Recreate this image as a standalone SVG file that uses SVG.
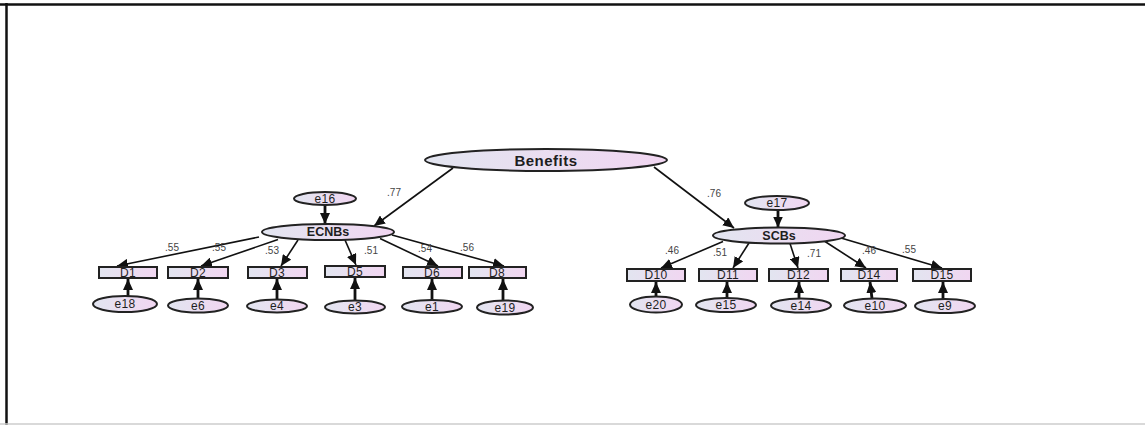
<svg xmlns="http://www.w3.org/2000/svg" width="1145" height="425" viewBox="0 0 1145 425">
<style>
  .lat { fill: url(#g); stroke: #222; stroke-width: 2; }
  .obs { fill: url(#g); stroke: #222; stroke-width: 2; }
  .t { font-family: "Liberation Sans", Arial, sans-serif; fill: #1e1e1e; text-anchor: middle; dominant-baseline: central; }
  .big { font-size: 15px; font-weight: bold; letter-spacing: 0.5px; }
  .mid { font-size: 12.5px; font-weight: bold; }
  .sm { font-size: 12px; letter-spacing: 0.3px; }
  .lab { font-family: "Liberation Sans", Arial, sans-serif; font-size: 10px; fill: #444; text-anchor: middle; dominant-baseline: central; }
  .c { stroke: #111; stroke-width: 1.6; fill: none; marker-end: url(#ah); }
  .v { stroke: #111; stroke-width: 2.8; fill: none; marker-end: url(#ah); }
</style>
<defs>
  <linearGradient id="g" x1="0" y1="0" x2="1" y2="0">
    <stop offset="0" stop-color="#e2e5f0"/>
    <stop offset="1" stop-color="#f1d6f1"/>
  </linearGradient>
  <marker id="ah" markerUnits="userSpaceOnUse" markerWidth="11" markerHeight="10" refX="11" refY="5" orient="auto">
    <path d="M0,0 L11,5 L0,10 z" fill="#111"/>
  </marker>
</defs>
<rect x="0" y="0" width="1145" height="425" fill="#fff"/>
<g id="frame">
  <line x1="0" y1="4.5" x2="1145" y2="4.5" stroke="#111" stroke-width="2.5"/>
  <line x1="6.5" y1="3" x2="6.5" y2="425" stroke="#111" stroke-width="2.5"/>
  <line x1="0" y1="424" x2="1145" y2="424" stroke="#ccc" stroke-width="1.5"/>
</g>
<g id="connectors">
  <line class="c" x1="453" y1="168" x2="374" y2="226"/>
  <line class="c" x1="654" y1="167" x2="734" y2="228"/>
  <line class="v" x1="325" y1="205" x2="325" y2="224"/>
  <line class="v" x1="778" y1="210" x2="778" y2="227.5"/>
  <line class="c" x1="259" y1="237" x2="117" y2="266"/>
  <line class="c" x1="278" y1="239.5" x2="201" y2="266"/>
  <line class="c" x1="298" y1="240" x2="281" y2="266"/>
  <line class="c" x1="345" y1="240" x2="356" y2="265"/>
  <line class="c" x1="380" y1="238.5" x2="438" y2="266"/>
  <line class="c" x1="392" y1="235" x2="504" y2="266"/>
  <line class="c" x1="723" y1="241.5" x2="661" y2="268"/>
  <line class="c" x1="749" y1="243" x2="733" y2="268"/>
  <line class="c" x1="790" y1="243.5" x2="798" y2="268"/>
  <line class="c" x1="825" y1="241.5" x2="866" y2="268"/>
  <line class="c" x1="841" y1="238" x2="942" y2="268"/>
  <line class="v" x1="128" y1="296" x2="128" y2="279"/>
  <line class="v" x1="198" y1="298.5" x2="198" y2="279"/>
  <line class="v" x1="277" y1="299.5" x2="277" y2="279"/>
  <line class="v" x1="355" y1="300.5" x2="355" y2="278"/>
  <line class="v" x1="432" y1="300" x2="432" y2="279"/>
  <line class="v" x1="503" y1="300.5" x2="503" y2="279"/>
  <line class="v" x1="656" y1="296.5" x2="656" y2="282"/>
  <line class="v" x1="727" y1="298" x2="727" y2="282"/>
  <line class="v" x1="799" y1="298.5" x2="799" y2="282"/>
  <line class="v" x1="872" y1="298.5" x2="870" y2="282"/>
  <line class="v" x1="943" y1="299" x2="943" y2="282"/>
  <text class="lab" x="394" y="192">.77</text>
  <text class="lab" x="714" y="193">.76</text>
  <text class="lab" x="172" y="247">.55</text>
  <text class="lab" x="219" y="247">.55</text>
  <text class="lab" x="272" y="250">.53</text>
  <text class="lab" x="371" y="250">.51</text>
  <text class="lab" x="425" y="248">.54</text>
  <text class="lab" x="467" y="247">.56</text>
  <text class="lab" x="672" y="250">.46</text>
  <text class="lab" x="720" y="252">.51</text>
  <text class="lab" x="814" y="253">.71</text>
  <text class="lab" x="869" y="250.5">.46</text>
  <text class="lab" x="909" y="249">.55</text>
</g>
<g id="Benefits"><ellipse class="lat" cx="546" cy="160" rx="121" ry="11"/><text class="t big" x="546" y="160">Benefits</text></g>
<g id="ECNBs"><ellipse class="lat" cx="328" cy="232" rx="66" ry="8"/><text class="t mid" x="328" y="232">ECNBs</text></g>
<g id="SCBs"><ellipse class="lat" cx="779" cy="235.5" rx="66" ry="8"/><text class="t mid" x="779" y="235.5">SCBs</text></g>
<g id="e16"><ellipse class="lat" cx="325" cy="198.5" rx="31" ry="6.5"/><text class="t sm" x="325" y="198.5">e16</text></g>
<g id="e17"><ellipse class="lat" cx="777" cy="203" rx="32" ry="7"/><text class="t sm" x="777" y="203">e17</text></g>
<g id="D1"><rect class="obs" x="99" y="267" width="58" height="11"/><text class="t sm" x="128" y="272.5">D1</text></g>
<g id="D2"><rect class="obs" x="168" y="267" width="60" height="11"/><text class="t sm" x="198" y="272.5">D2</text></g>
<g id="D3"><rect class="obs" x="248" y="267" width="59" height="11"/><text class="t sm" x="277" y="272.5">D3</text></g>
<g id="D5"><rect class="obs" x="325" y="266" width="60" height="11"/><text class="t sm" x="355" y="271.5">D5</text></g>
<g id="D6"><rect class="obs" x="403" y="267" width="59" height="11"/><text class="t sm" x="432" y="272.5">D6</text></g>
<g id="D8"><rect class="obs" x="469" y="267" width="57" height="11"/><text class="t sm" x="497" y="272.5">D8</text></g>
<g id="D10"><rect class="obs" x="627" y="269" width="58" height="12"/><text class="t sm" x="656" y="275">D10</text></g>
<g id="D11"><rect class="obs" x="699" y="269" width="58" height="12"/><text class="t sm" x="728" y="275">D11</text></g>
<g id="D12"><rect class="obs" x="769" y="269" width="59" height="12"/><text class="t sm" x="798.5" y="275">D12</text></g>
<g id="D14"><rect class="obs" x="841" y="269" width="56" height="12"/><text class="t sm" x="869" y="275">D14</text></g>
<g id="D15"><rect class="obs" x="913" y="269" width="58" height="12"/><text class="t sm" x="942" y="275">D15</text></g>
<g id="e18"><ellipse class="lat" cx="125" cy="304" rx="32" ry="8"/><text class="t sm" x="125" y="304">e18</text></g>
<g id="e6"><ellipse class="lat" cx="198" cy="305.5" rx="30" ry="7"/><text class="t sm" x="198" y="305.5">e6</text></g>
<g id="e4"><ellipse class="lat" cx="277" cy="306" rx="30" ry="6.5"/><text class="t sm" x="277" y="306">e4</text></g>
<g id="e3"><ellipse class="lat" cx="355" cy="307" rx="30" ry="6.5"/><text class="t sm" x="355" y="307">e3</text></g>
<g id="e1"><ellipse class="lat" cx="432" cy="306.5" rx="30" ry="6.5"/><text class="t sm" x="432" y="306.5">e1</text></g>
<g id="e19"><ellipse class="lat" cx="505" cy="307.5" rx="28" ry="7"/><text class="t sm" x="505" y="307.5">e19</text></g>
<g id="e20"><ellipse class="lat" cx="656" cy="304.5" rx="26" ry="8"/><text class="t sm" x="656" y="304.5">e20</text></g>
<g id="e15"><ellipse class="lat" cx="726" cy="305" rx="30" ry="7"/><text class="t sm" x="726" y="305">e15</text></g>
<g id="e14"><ellipse class="lat" cx="801" cy="305.5" rx="30" ry="7"/><text class="t sm" x="801" y="305.5">e14</text></g>
<g id="e10"><ellipse class="lat" cx="875" cy="305.5" rx="31" ry="7"/><text class="t sm" x="875" y="305.5">e10</text></g>
<g id="e9"><ellipse class="lat" cx="945" cy="306" rx="30" ry="7"/><text class="t sm" x="945" y="306">e9</text></g>
</svg>
